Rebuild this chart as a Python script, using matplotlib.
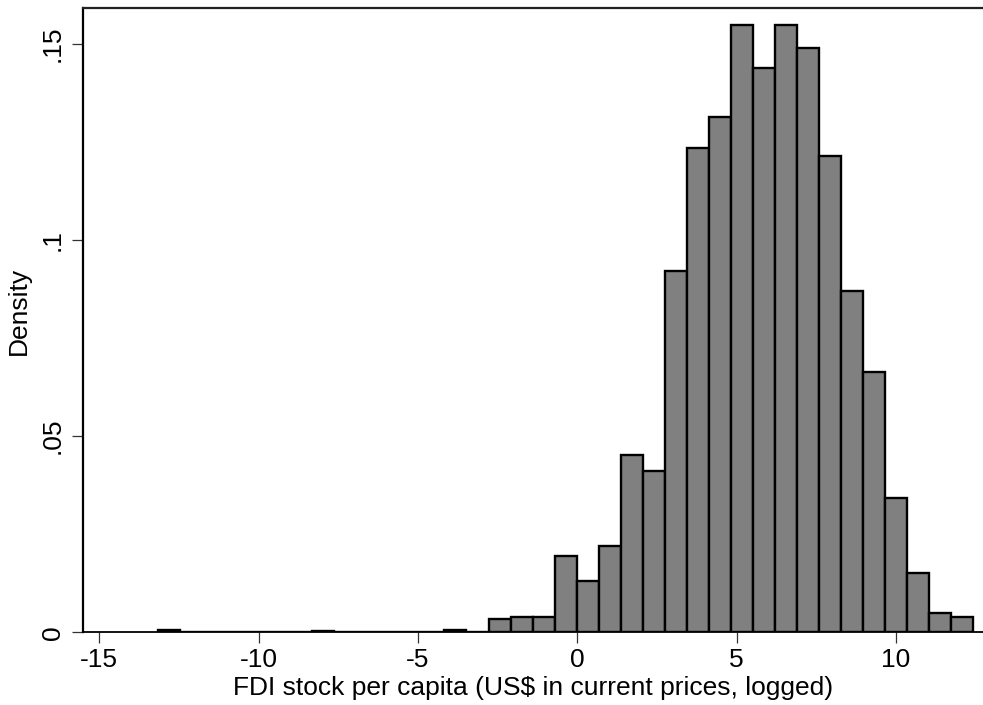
import matplotlib
matplotlib.use('Agg')
import matplotlib.pyplot as plt
import numpy as np

plt.rcParams['font.family'] = ['Liberation Sans', 'DejaVu Sans']

# histogram of logged FDI stock per capita, 37 equal-width bins
binStart = -13.16
binWidth = 0.6916
density = [0.0005, 0, 0, 0, 0, 0, 0, 0.00026, 0, 0,
           0, 0, 0, 0.0005, 0, 0.0033, 0.0040, 0.0040, 0.0194, 0.0130,
           0.0220, 0.0452, 0.0411, 0.0922, 0.1235, 0.1313, 0.1547, 0.1437, 0.1547, 0.1488,
           0.1213, 0.0871, 0.0664, 0.0341, 0.0150, 0.0050, 0.0040]

xTicks = [-15, -10, -5, 0, 5, 10]
yTicks = [0, 0.05, 0.1, 0.15]
yTickLabels = ['0', '.05', '.1', '.15']

lefts = binStart + binWidth * np.arange(len(density))

fig = plt.figure(figsize=(9.83, 7.05), dpi=100)
ax = fig.add_axes([83 / 983, 72.7 / 705, 900 / 983, 624.3 / 705])

ax.bar(lefts, density, width=binWidth, align='edge', color='#808080',
       edgecolor='black', linewidth=1.7, zorder=2)

ax.set_xlim(-15.51, 12.73)
ax.set_ylim(0, 0.1591)

ax.set_xticks(xTicks)
ax.set_xticklabels([str(t) for t in xTicks])
ax.set_yticks(yTicks)
ax.set_yticklabels(yTickLabels, rotation=90, va='center')

ax.tick_params(axis='both', direction='out', length=8, width=0.9,
               color='#333333', labelsize=19)
ax.tick_params(axis='x', pad=3)
ax.tick_params(axis='y', pad=5)

ax.spines['right'].set_visible(False)
ax.spines['left'].set_linewidth(1.6)
ax.spines['bottom'].set_linewidth(1.3)
ax.spines['top'].set_linewidth(1.6)
ax.spines['top'].set_color('#222222')

ax.set_xlabel('FDI stock per capita (US$ in current prices, logged)', fontsize=19, labelpad=3)
ax.set_ylabel('Density', fontsize=19)
ax.yaxis.set_label_coords(-0.058, 0.515)

fig.savefig('out.png', dpi=100)
